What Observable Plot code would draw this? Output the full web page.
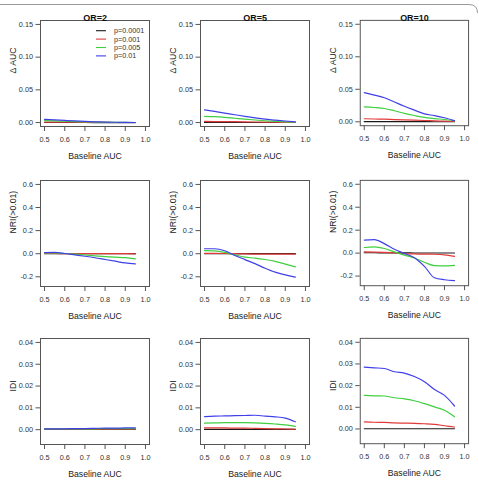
<!DOCTYPE html>
<html>
<head>
<meta charset="utf-8">
<script src="https://cdn.jsdelivr.net/npm/d3@7"></script>
<script src="https://cdn.jsdelivr.net/npm/@observablehq/plot@0.6"></script>
<style>
  body { margin: 0; background: #fff; }
  #fig { position: relative; width: 479px; height: 481px; overflow: hidden;
         font-family: "Liberation Sans", Arial, sans-serif; }
  .panel { position: absolute; }
  .panel svg { overflow: visible; background: transparent; }
  #border { position: absolute; left: 0; top: 0; }
</style>
</head>
<body>
<div id="fig"></div>
<script>
// Baseline AUC values at which each simulation was run
const baselineAUC = [0.5, 0.55, 0.6, 0.65, 0.7, 0.75, 0.8, 0.85, 0.9, 0.95];

// Significance levels (one line each) and their colours
const pLevels = ["p=0.0001", "p=0.001", "p=0.005", "p=0.01"];
const pColors = ["#1a1a1a", "#e23a3a", "#3fcf3f", "#4040e8"];

// Column titles (odds ratio of the new marker)
const orTitles = ["OR=2", "OR=5", "OR=10"];

// Row metrics
const metricLabels = ["Δ AUC", "NRI(>0.01)", "IDI"];
const metricLimits = [[0, 0.15], [-0.25, 0.6], [-0.005, 0.04]];
const metricTicks = [[0, 0.05, 0.1, 0.15], [-0.2, 0, 0.2, 0.4, 0.6], [0, 0.01, 0.02, 0.03, 0.04]];
const metricDigits = [2, 1, 2];
const xTicks = [0.5, 0.6, 0.7, 0.8, 0.9, 1.0];
const xLabel = "Baseline AUC";

// Change in AUC, one list per p level (p=0.0001, 0.001, 0.005, 0.01)
const dAUC_OR2 = [
  [0.0001, 0.0001, 0.0001, 0.0001, 0.0001, 0, 0, 0, 0, 0],
  [0.0008, 0.0007, 0.0006, 0.0005, 0.0004, 0.0003, 0.0002, 0.0001, 0.0001, 0.0001],
  [0.003, 0.0025, 0.002, 0.0015, 0.0011, 0.0008, 0.0005, 0.0003, 0.0002, 0.0001],
  [0.005, 0.0042, 0.0033, 0.0025, 0.0018, 0.0012, 0.0008, 0.0005, 0.0003, 0.0001]
];
const dAUC_OR5 = [
  [0.0002, 0.0002, 0.0002, 0.0002, 0.0001, 0.0001, 0.0001, 0.0001, 0.0001, 0.0001],
  [0.0017, 0.0016, 0.0015, 0.0013, 0.0011, 0.0009, 0.0007, 0.0005, 0.0003, 0.0002],
  [0.0095, 0.009, 0.008, 0.0066, 0.0052, 0.0039, 0.0028, 0.0019, 0.0011, 0.0005],
  [0.0195, 0.017, 0.0145, 0.012, 0.0095, 0.0072, 0.0052, 0.0038, 0.0024, 0.001]
];
const dAUC_OR10 = [
  [0.0003, 0.0003, 0.0003, 0.0002, 0.0002, 0.0002, 0.0002, 0.0001, 0.0001, 0.0001],
  [0.0047, 0.0043, 0.004, 0.0035, 0.003, 0.0025, 0.002, 0.0015, 0.001, 0.0005],
  [0.023, 0.022, 0.0205, 0.017, 0.013, 0.0097, 0.0068, 0.005, 0.0035, 0.0016],
  [0.045, 0.041, 0.037, 0.0305, 0.024, 0.018, 0.0122, 0.0095, 0.0062, 0.0018]
];

// Net reclassification improvement (threshold 0.01)
const nri_OR2 = [
  [0.001, 0.001, 0.001, 0.001, 0.001, 0.001, 0.001, 0.001, 0.001, 0.001],
  [0.002, 0.002, 0.001, 0.001, 0, 0, 0, 0, 0, -0.001],
  [0.006, 0.006, 0.002, -0.004, -0.011, -0.018, -0.025, -0.03, -0.034, -0.045],
  [0.01, 0.011, 0.002, -0.01, -0.022, -0.035, -0.05, -0.065, -0.08, -0.088]
];
const nri_OR5 = [
  [0.001, 0.001, 0.001, 0.001, 0.001, 0.001, 0.001, 0.001, 0.001, 0.001],
  [0.003, 0.003, 0.002, 0, -0.002, -0.003, -0.004, -0.004, -0.004, -0.004],
  [0.026, 0.024, 0.012, -0.01, -0.03, -0.038, -0.05, -0.066, -0.09, -0.114],
  [0.043, 0.043, 0.026, -0.015, -0.051, -0.086, -0.126, -0.16, -0.183, -0.203]
];
const nri_OR10 = [
  [0.003, 0.003, 0.002, 0.002, 0.002, 0.001, 0.001, 0.001, 0.001, 0.001],
  [0.011, 0.009, 0.006, 0.002, -0.004, -0.007, -0.009, -0.01, -0.015, -0.029],
  [0.049, 0.054, 0.04, 0.011, -0.017, -0.043, -0.08, -0.109, -0.111, -0.106],
  [0.114, 0.117, 0.083, 0.034, -0.003, -0.04, -0.115, -0.215, -0.232, -0.24]
];

// Integrated discrimination improvement
const idi_OR2 = [
  [0.0001, 0.0001, 0.0001, 0.0001, 0.0001, 0.0001, 0.0001, 0.0001, 0.0001, 0.0001],
  [0.0002, 0.0002, 0.0002, 0.0002, 0.0002, 0.0002, 0.0002, 0.0002, 0.0002, 0.0002],
  [0.0003, 0.0003, 0.0003, 0.0003, 0.0004, 0.0004, 0.0005, 0.0005, 0.0005, 0.0005],
  [0.0004, 0.0004, 0.0004, 0.0005, 0.0005, 0.0006, 0.0007, 0.0007, 0.0008, 0.0008]
];
const idi_OR5 = [
  [0.0001, 0.0001, 0.0001, 0.0001, 0.0001, 0.0001, 0.0001, 0.0001, 0.0001, 0.0001],
  [0.0008, 0.0008, 0.0008, 0.0007, 0.0007, 0.0006, 0.0005, 0.0004, 0.0003, 0.0002],
  [0.003, 0.0031, 0.0032, 0.0032, 0.0032, 0.0031, 0.0029, 0.0026, 0.0022, 0.0015],
  [0.006, 0.0062, 0.0063, 0.0064, 0.0065, 0.0066, 0.0062, 0.0059, 0.0053, 0.0036]
];
const idi_OR10 = [
  [0.0001, 0.0001, 0.0001, 0.0001, 0.0001, 0.0001, 0.0001, 0.0001, 0.0001, 0.0001],
  [0.0033, 0.0031, 0.003, 0.0028, 0.0027, 0.0026, 0.0024, 0.0021, 0.0015, 0.0009],
  [0.0155, 0.0153, 0.0152, 0.0144, 0.0139, 0.013, 0.0117, 0.0102, 0.0086, 0.0056],
  [0.0285, 0.0282, 0.0279, 0.0264, 0.0258, 0.0242, 0.0218, 0.0182, 0.0155, 0.0106]
];

const grid = [
  [dAUC_OR2, dAUC_OR5, dAUC_OR10],
  [nri_OR2, nri_OR5, nri_OR10],
  [idi_OR2, idi_OR5, idi_OR10]
];

// R-style axis range: limits padded by 4% on each side
const pad = ([a, b]) => { const d = (b - a) * 0.04; return [a - d, b + d]; };
const fmt = (digits) => (v) => v.toFixed(digits);

const fig = document.getElementById("fig");
const PANEL = 160;
const rowTop = [0, 160, 318];
const font = '"Liberation Sans", Arial, sans-serif';

grid.forEach((row, r) => {
  row.forEach((series, c) => {
    const rows = series.flatMap((vals, s) =>
      baselineAUC.map((x, i) => ({ x, y: vals[i], p: pLevels[s] })));
    const marks = [
      Plot.frame({ stroke: "#555", strokeWidth: 1 }),
      Plot.axisX({
        ticks: xTicks, tickFormat: fmt(1), tickSize: 5, tickPadding: 5,
        stroke: "#555", fill: "#333", fontSize: 7.3, label: null
      }),
      Plot.axisY({
        ticks: metricTicks[r], tickFormat: fmt(metricDigits[r]), tickSize: 4.5, tickPadding: 3,
        stroke: "#555", fill: "#333", fontSize: 7.3, label: null
      }),
      // axis titles
      Plot.text([xLabel], {
        text: (d) => d, frameAnchor: "bottom", dy: 32.5, fontSize: 8.7, fill: "#222"
      }),
      Plot.text([metricLabels[r]], {
        text: (d) => d, frameAnchor: "left", dx: -27, rotate: -90, fontSize: 8.7, fill: "#222"
      }),
      Plot.line(rows, {
        x: "x", y: "y", z: "p", stroke: "p", strokeWidth: 1.2, curve: "monotone-x"
      })
    ];
    if (r === 0) {
      marks.push(Plot.text([orTitles[c]], {
        text: (d) => d, frameAnchor: "top", dy: -6, fontWeight: "bold",
        fontSize: 9, fill: "#111"
      }));
    }
    const chart = Plot.plot({
      width: PANEL, height: PANEL,
      marginLeft: 40, marginRight: 11, marginTop: 20, marginBottom: 34,
      style: { background: "transparent", overflow: "visible", fontFamily: font, color: "#333" },
      x: { domain: pad([0.5, 1.0]) },
      y: { domain: pad(metricLimits[r]) },
      color: { domain: pLevels, range: pColors },
      marks
    });
    const holder = document.createElement("div");
    holder.className = "panel";
    holder.style.left = (c * PANEL) + "px";
    holder.style.top = rowTop[r] + "px";
    holder.appendChild(chart);
    fig.appendChild(holder);
  });
});

// Legend for the p levels, inside the first panel
const legend = d3.select(fig).append("svg")
  .attr("class", "panel")
  .style("left", "0px").style("top", "0px")
  .attr("width", PANEL).attr("height", 70);
pLevels.forEach((label, i) => {
  const y = 30.7 + i * 8.4;
  legend.append("line").attr("x1", 96).attr("x2", 106).attr("y1", y).attr("y2", y)
    .attr("stroke", pColors[i]).attr("stroke-width", 1.1);
  legend.append("text").attr("x", 114).attr("y", y).attr("dy", "0.35em")
    .attr("font-size", 7.2).attr("fill", "#333").attr("font-family", font)
    .text(label);
});

// Thin frame line across the top of the figure
d3.select(fig).append("svg").attr("id", "border")
  .attr("width", 479).attr("height", 20)
  .append("path")
  .attr("d", "M0,4.5 H469 Q477.5,4.5 477.5,13")
  .attr("fill", "none").attr("stroke", "#999").attr("stroke-width", 1);
</script>
</body>
</html>
